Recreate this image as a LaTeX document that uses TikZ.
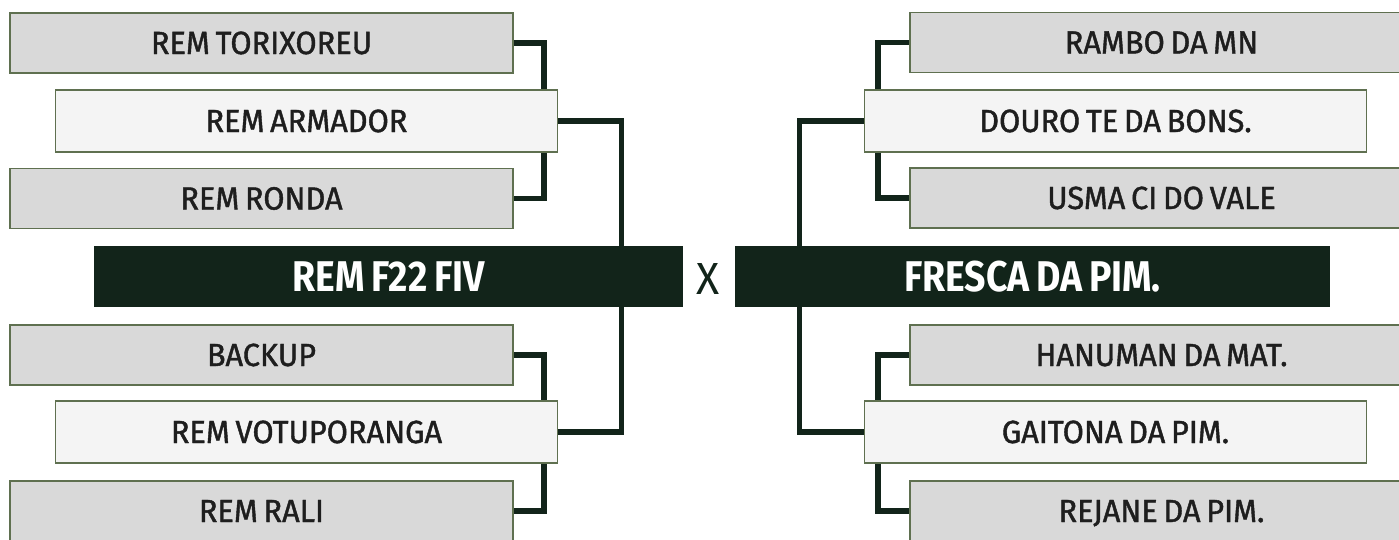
\documentclass[tikz,border=0pt]{standalone}
\usepackage{fontspec}
\setmainfont{Fira Sans}[FakeStretch=0.96, FakeBold=1.3, WordSpace=0.7]
\newfontfamily\headfont{Fira Sans}[FakeStretch=0.87, WordSpace=0.75]
\newfontfamily\xfont{Fira Sans}[FakeStretch=0.95]
\usetikzlibrary{backgrounds}
\definecolor{dkgreen}{HTML}{12241A}
\definecolor{boxgray}{HTML}{D9D9D9}
\definecolor{boxwhite}{HTML}{F4F4F4}
\definecolor{boxline}{HTML}{5F7050}
\definecolor{txt}{HTML}{1E1E1E}
\tikzset{
  base/.style={rectangle, inner sep=0pt, outer sep=0pt, draw=boxline, line width=1.3pt,
    text=txt, font=\fontsize{32}{32}\selectfont, text height=22pt, text depth=0pt},
  graybox/.style={base, fill=boxgray, minimum width=503pt, minimum height=60pt},
  whitebox/.style={base, fill=boxwhite, minimum width=502pt, minimum height=62pt},
  darkbox/.style={rectangle, inner sep=0pt, outer sep=0pt, fill=dkgreen, minimum height=61pt,
    text=white, font=\headfont\bfseries\fontsize{43}{43}\selectfont, text height=30pt, text depth=0pt},
  link/.style={draw=dkgreen, line width=5.2pt, line join=miter}
}
\begin{document}
\begin{tikzpicture}[x=1pt, y=-1pt]
\useasboundingbox (0,0) rectangle (1399,539);
% left side
\node[graybox] (tor) at (261.5,43) {REM TORIXOREU};
\node[whitebox] (arm) at (306.5,121) {REM ARMADOR};
\node[graybox] (ron) at (261.5,198.5) {REM RONDA};
\node[darkbox, minimum width=589pt] (lmain) at (388.5,276.5) {REM F22 FIV};
\node[graybox] (bak) at (261.5,355) {BACKUP};
\node[whitebox] (vot) at (306.5,432) {REM VOTUPORANGA};
\node[graybox] (ral) at (261.5,511) {REM RALI};
% center
\node[text=dkgreen, inner sep=0pt, font=\xfont\fontsize{45}{45}\selectfont, text height=32pt, text depth=0pt] (vs) at (708.5,278) {X};
% right side
\node[graybox] (ram) at (1161.5,42.5) {RAMBO DA MN};
\node[whitebox] (dou) at (1115.5,121) {DOURO TE DA BONS.};
\node[graybox] (usm) at (1161.5,198) {USMA CI DO VALE};
\node[darkbox, minimum width=595pt] (rmain) at (1032.5,276.5) {FRESCA DA PIM.};
\node[graybox] (han) at (1161.5,355) {HANUMAN DA MAT.};
\node[whitebox] (gai) at (1115.5,432) {GAITONA DA PIM.};
\node[graybox] (rej) at (1161.5,511) {REJANE DA PIM.};
\begin{scope}[on background layer]
\draw[link] (tor.east) -- ++(31,0) |- (ron.east);
\draw[link] (bak.east) -- ++(31,0) |- (ral.east);
\draw[link] (arm.east) -- ++(64,0) |- (vot.east);
\draw[link] (ram.west) -- ++(-32,0) |- (usm.west);
\draw[link] (han.west) -- ++(-32,0) |- (rej.west);
\draw[link] (dou.west) -- ++(-65,0) |- (gai.west);
\end{scope}
\end{tikzpicture}
\end{document}
